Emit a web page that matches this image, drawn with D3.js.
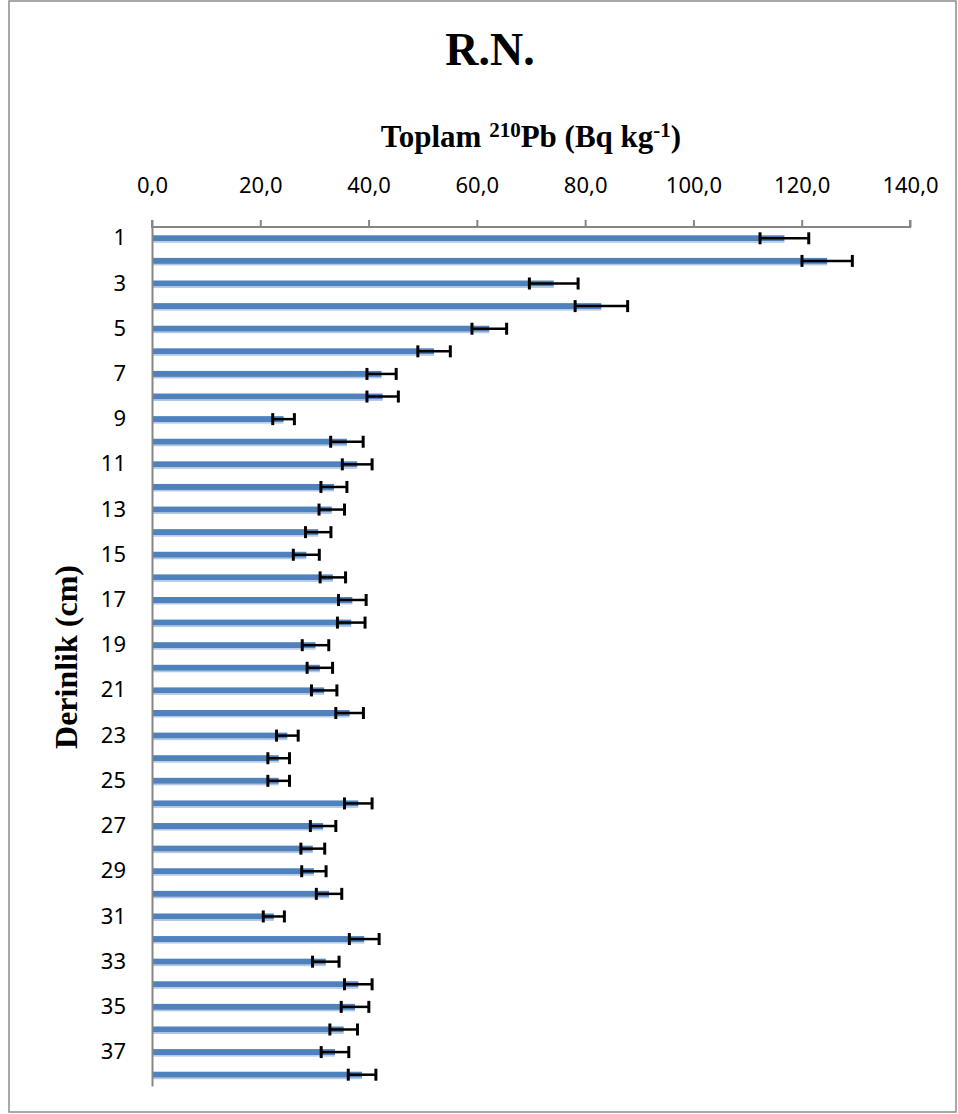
<!DOCTYPE html>
<html>
<head>
<meta charset="utf-8">
<script src="https://cdn.jsdelivr.net/npm/d3@7"></script>
<style>
  body { margin: 0; background: #fff; }
  svg { display: block; }
</style>
</head>
<body>
<svg id="chart"></svg>
<script>
// depth rows (cm)
const depths = d3.range(1, 39);
// total 210Pb activity, Bq/kg
const values = [116.8, 124.7, 74.2, 83.0, 62.3, 52.1, 42.4, 42.6, 24.3, 36.0,
  37.9, 33.6, 33.2, 30.7, 28.5, 33.4, 37.0, 36.8, 30.2, 31.0,
  31.8, 36.5, 25.0, 23.4, 23.4, 38.1, 31.6, 29.7, 29.9, 32.7,
  22.5, 39.2, 32.1, 38.1, 37.5, 35.4, 33.8, 38.8];
// error (+/-)
const errors = [4.5, 4.65, 4.5, 4.85, 3.2, 3.0, 2.7, 2.9, 2.0, 3.0,
  2.75, 2.4, 2.35, 2.35, 2.4, 2.35, 2.55, 2.55, 2.45, 2.35,
  2.35, 2.55, 2.0, 2.0, 2.0, 2.55, 2.35, 2.2, 2.25, 2.35,
  1.95, 2.75, 2.45, 2.55, 2.55, 2.55, 2.55, 2.55];
const xTicks = [0, 20, 40, 60, 80, 100, 120, 140];

let w = 958;
let h = 1114;

let marginT = 227;
let marginL = 152;
let marginR = 48;
let marginB = 28;

let data = depths.map((d, i) => ({depth: d, value: values[i], err: errors[i]}));

let chart = d3.select('#chart')
  .attr('width', w)
  .attr('height', h);

// chart border
chart.append('rect')
  .attr('x', 9)
  .attr('y', 1)
  .attr('width', 947)
  .attr('height', 1111)
  .attr('fill', 'none')
  .attr('stroke', '#8c8c8c')
  .attr('stroke-width', 1.5);

let xScale = d3.scaleLinear()
  .domain([0, 140])
  .range([marginL, w - marginR]);

let yScale = d3.scaleBand()
  .domain(depths)
  .range([marginT, h - marginB]);

let barH = 6;

// bars
let rows = chart.append('g')
  .selectAll('g')
  .data(data)
  .enter()
  .append('g')
  .attr('transform', d => `translate(0, ${yScale(d.depth) + yScale.bandwidth() / 2})`);

rows.append('rect')
  .attr('x', xScale(0))
  .attr('y', -barH / 2)
  .attr('width', d => xScale(d.value) - xScale(0))
  .attr('height', barH)
  .attr('fill', '#4f81bd');

rows.append('rect')
  .attr('x', xScale(0))
  .attr('y', barH / 2)
  .attr('width', d => xScale(d.value) - xScale(0))
  .attr('height', 1.5)
  .attr('fill', '#b4c8e4');

// error bars
rows.append('line')
  .attr('x1', d => xScale(d.value - d.err))
  .attr('x2', d => xScale(d.value + d.err))
  .attr('stroke', '#000')
  .attr('stroke-width', 2.5);

rows.selectAll('.cap')
  .data(d => [d.value - d.err, d.value + d.err])
  .enter()
  .append('line')
  .attr('class', 'cap')
  .attr('x1', v => xScale(v))
  .attr('x2', v => xScale(v))
  .attr('y1', -6)
  .attr('y2', 6)
  .attr('stroke', '#000')
  .attr('stroke-width', 3);

//AXES
let xAxis = d3.axisTop(xScale)
  .tickValues(xTicks)
  .tickSize(7)
  .tickPadding(27)
  .tickFormat(d => d3.format('.1f')(d).replace('.', ','));

let gx = chart.append('g')
  .attr('transform', `translate(0, ${marginT})`)
  .call(xAxis);
gx.select('.domain').attr('d', `M${xScale(0)},-7V0H${xScale(140)}V-7`);

let yAxis = d3.axisLeft(yScale)
  .tickValues(depths.filter(d => d % 2 == 1))
  .tickSize(0)
  .tickPadding(26);

let gy = chart.append('g')
  .attr('transform', `translate(${marginL}, 0)`)
  .call(yAxis);

chart.selectAll('.domain, .tick line')
  .attr('stroke', '#868686')
  .attr('stroke-width', 2);

chart.selectAll('.tick text')
  .attr('fill', '#000')
  .style('font-family', '"Noto Sans", "Open Sans", sans-serif')
  .style('font-size', '22px');

//LABELS
chart.append('text')
  .attr('x', 490)
  .attr('y', 65)
  .style('text-anchor', 'middle')
  .style('font-family', '"Liberation Serif", "Times New Roman", serif')
  .style('font-weight', 'bold')
  .style('font-size', '46px')
  .text('R.N.');

let xt = chart.append('text')
  .attr('x', 531)
  .attr('y', 147)
  .style('text-anchor', 'middle')
  .style('font-family', '"Liberation Serif", "Times New Roman", serif')
  .style('font-weight', 'bold')
  .style('font-size', '31px');
xt.append('tspan').text('Toplam ');
xt.append('tspan').attr('dy', -10).style('font-size', '21px').text('210');
xt.append('tspan').attr('dy', 10).text('Pb (Bq kg');
xt.append('tspan').attr('dy', -10).style('font-size', '21px').text('-1');
xt.append('tspan').attr('dy', 10).text(')');

chart.append('text')
  .attr('transform', 'rotate(-90)')
  .attr('x', -657)
  .attr('y', 77)
  .style('text-anchor', 'middle')
  .style('font-family', '"Liberation Serif", "Times New Roman", serif')
  .style('font-weight', 'bold')
  .style('font-size', '32px')
  .text('Derinlik (cm)');
</script>
</body>
</html>
